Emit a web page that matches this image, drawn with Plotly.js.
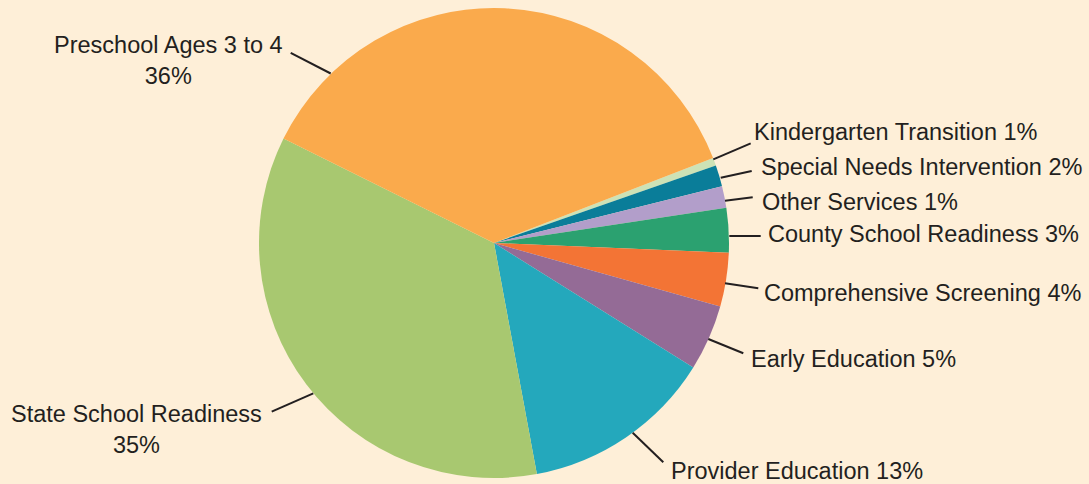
<!DOCTYPE html>
<html>
<head>
<meta charset="utf-8">
<script src="https://cdn.plot.ly/plotly-3.0.1.min.js"></script>
<style>
  html, body { margin: 0; padding: 0; background: #FEEFD8; }
  #chart { width: 1089px; height: 484px; }
</style>
</head>
<body>
<div id="chart"></div>
<script>
// ---- data (clockwise from the Kindergarten sliver) ----
const categories = [
  "Kindergarten Transition",
  "Special Needs Intervention",
  "Other Services",
  "County School Readiness",
  "Comprehensive Screening",
  "Early Education",
  "Provider Education",
  "State School Readiness",
  "Preschool Ages 3 to 4"
];
const values = [0.54, 1.46, 1.49, 3.06, 3.70, 4.53, 13.19, 35.25, 36.78];
const percentLabels = ["1%", "2%", "1%", "3%", "4%", "5%", "13%", "35%", "36%"];
const colors = ["#CDE2B6", "#0A7D99", "#B29ECA", "#2BA170", "#F37435",
                "#946B96", "#24A8BC", "#A8C870", "#FAAA4C"];

// ---- layout helpers (pixel geometry of the figure) ----
const W = 1089, H = 484;
const px = x => x / W;
const py = y => 1 - y / H;
const FS = 23.5;

// label placement: [x, y(text middle), xanchor, twoLine]
const labelPos = [
  [752, 132.5, "left", false],
  [758.5, 167, "left", false],
  [760, 202, "left", false],
  [766, 233.5, "left", false],
  [762, 292.5, "left", false],
  [748.5, 359, "left", false],
  [668.5, 471, "left", false],
  [136.5, 429, "center", true],
  [168.5, 60.5, "center", true]
];
// leader lines: [x0, y0, x1, y1] in pixels
const leaders = [
  [713.3, 159.3, 750.7, 143.3],
  [720.7, 177.7, 751.7, 171.0],
  [725.0, 200.7, 752.7, 197.3],
  [729.3, 236.0, 760.7, 236.0],
  [725.0, 283.3, 758.3, 288.3],
  [708.3, 339.0, 743.3, 353.3],
  [632.7, 432.7, 663.3, 462.3],
  [313.3, 393.3, 271.7, 411.7],
  [330.7, 73.5, 290.7, 52.8]
];

const annotations = categories.map((c, i) => {
  const p = labelPos[i];
  const txt = p[3] ? c + "<br>" + percentLabels[i] : c + " " + percentLabels[i];
  return {
    xref: "paper", yref: "paper",
    x: px(p[0]), y: py(p[1]),
    xanchor: p[2], yanchor: "middle",
    align: "center",
    showarrow: false,
    text: txt,
    font: { family: "Liberation Sans, Arial, sans-serif", size: FS, color: "#231F20" }
  };
});

const shapes = leaders.map(l => ({
  type: "line", xref: "paper", yref: "paper",
  x0: px(l[0]), y0: py(l[1]), x1: px(l[2]), y1: py(l[3]),
  line: { color: "#231F20", width: 2 }
}));

const trace = {
  type: "pie",
  labels: categories,
  values: values,
  sort: false,
  direction: "clockwise",
  rotation: 68.8,
  marker: { colors: colors, line: { width: 0 } },
  textinfo: "none",
  hoverinfo: "none",
  showlegend: false,
  domain: { x: [px(259), px(729)], y: [py(478), py(8)] }
};

const layout = {
  width: W, height: H,
  margin: { l: 0, r: 0, t: 0, b: 0 },
  paper_bgcolor: "#FEEFD8",
  plot_bgcolor: "#FEEFD8",
  showlegend: false,
  annotations: annotations,
  shapes: shapes
};

Plotly.newPlot("chart", [trace], layout, { displayModeBar: false, staticPlot: true });
</script>
</body>
</html>
